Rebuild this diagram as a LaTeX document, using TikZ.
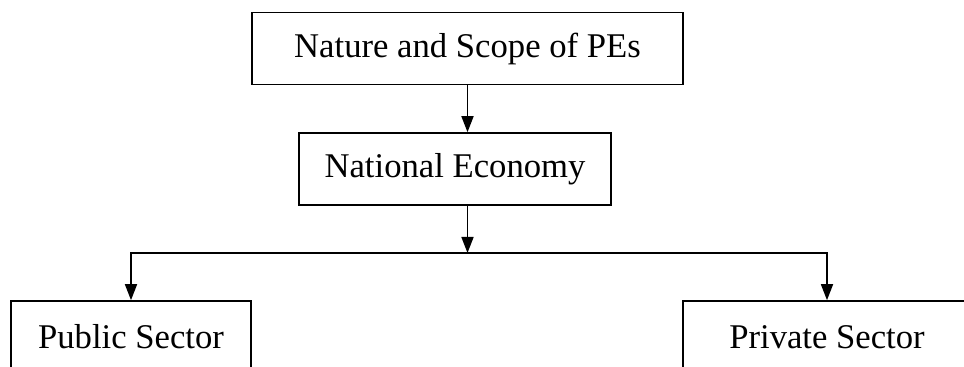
\documentclass[tikz,border=0pt]{standalone}
\usepackage{fontspec}
\setmainfont{Liberation Serif}
\usetikzlibrary{arrows.meta}

\tikzset{
  block/.style={draw, line width=1.2pt, minimum height=54pt, inner sep=0pt, font=\fontsize{26}{30}\selectfont},
  link/.style={line width=1.2pt, -{Triangle[length=12pt,width=9pt]}}
}

\begin{document}
\begin{tikzpicture}[x=0.75pt, y=-0.75pt]
\clip (0,0) rectangle (964,367);
\node[block, minimum width=323pt] (scope) at (467.5,48.5) {Nature and Scope of PEs};
\node[block, minimum width=234pt] (econ) at (455,169) {National Economy};
\node[block, minimum width=180pt] (pub) at (131,337) {Public Sector};
\node[block, minimum width=216pt] (priv) at (827,337) {Private Sector};
\coordinate (split) at (467.5,253);
\draw [link] (scope.south) -- (scope.south |- econ.north);
\draw [link] (econ.south -| split) -- (split);
\draw [link] (split) -| (pub.north);
\draw [link] (split) -| (priv.north);
\end{tikzpicture}
\end{document}
